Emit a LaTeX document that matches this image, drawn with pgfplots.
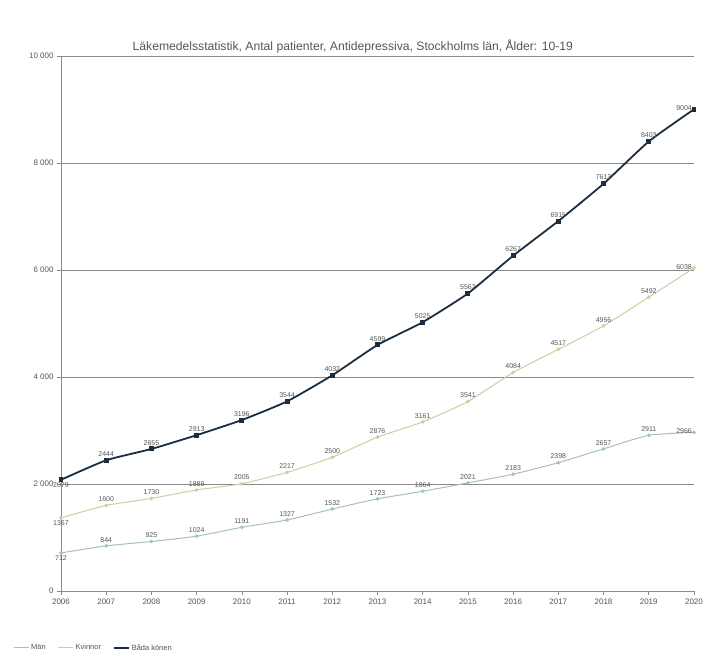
\documentclass[border=0pt]{standalone}
\usepackage{fontspec}
\setmainfont{Liberation Sans}
\usepackage{pgfplots}
\usepackage{pgfplotstable}
\pgfplotsset{compat=1.18}
\definecolor{bothc}{HTML}{1B2D40}
\definecolor{womc}{HTML}{D6C8A2}
\definecolor{menc}{HTML}{A6BEC6}
\definecolor{gridc}{HTML}{8A8A8A}
\definecolor{txtc}{HTML}{555555}
\pgfplotstableread{
year men women both
2006 712 1367 2079
2007 844 1600 2444
2008 925 1730 2655
2009 1024 1889 2913
2010 1191 2005 3196
2011 1327 2217 3544
2012 1532 2500 4032
2013 1723 2876 4599
2014 1864 3161 5025
2015 2021 3541 5562
2016 2183 4084 6267
2017 2398 4517 6915
2018 2657 4956 7613
2019 2911 5492 8403
2020 2966 6038 9004
}\data
\pgfplotsset{lbls/.style 2 args={
  draw=none, mark=none, forget plot,
  point meta=explicit,
  nodes near coords={\pgfmathprintnumber[fixed,precision=0,1000 sep={}]{\pgfplotspointmeta}},
  every node near coord/.append style={anchor=#1, #2, font=\fontsize{7}{8}\selectfont, text=txtc, inner sep=2bp},
}}
\newcommand\labelseries[1]{%
  \addplot[lbls={north}{yshift=-1bp}, restrict x to domain=2005.5:2006.5] table[x=year, y=#1, meta=#1]{\data};
  \addplot[lbls={south}{yshift=1.5bp}, restrict x to domain=2006.5:2019.5] table[x=year, y=#1, meta=#1]{\data};
  \addplot[lbls={east}{yshift=1bp}, restrict x to domain=2019.5:2020.5] table[x=year, y=#1, meta=#1]{\data};
}
\begin{document}
\begin{tikzpicture}
\path[use as bounding box] (-61bp,-63bp) rectangle (645bp,591bp);
\begin{axis}[
  at={(0,0)}, anchor=south west,
  scale only axis, width=633bp, height=535bp,
  xmin=2006, xmax=2020, ymin=0, ymax=10000,
  clip=false,
  axis lines=left, axis line style={-, draw=gridc, line width=0.6pt},
  xtick={2006,...,2020}, ytick={0,2000,...,10000},
  scaled y ticks=false,
  tick align=outside, major tick length=4bp,
  tick style={draw=gridc, line width=0.6pt},
  ymajorgrids, grid style={draw=gridc, line width=0.7pt},
  /pgf/number format/assume math mode=true,
  x tick label style={font=\fontsize{8}{9}\selectfont, text=txtc, /pgf/number format/1000 sep={}},
  y tick label style={font=\fontsize{8}{9}\selectfont, text=txtc, /pgf/number format/1000 sep={\ }},
  title={Läkemedelsstatistik, Antal patienter, Antidepressiva, Stockholms län, Ålder: 10-19},
  title style={at={(0.461,1.0206)}, anchor=center, yshift=-7bp, font=\fontsize{12.2}{14}\selectfont, text=txtc},
  legend style={at={(-0.0806,-0.1065)}, anchor=west, draw=none, fill=none,
    font=\fontsize{7.5}{9}\selectfont, text=txtc, legend columns=-1,
    /tikz/every even column/.append style={column sep=10bp}},
  legend image code/.code={\draw[#1] (0bp,0bp) -- (15bp,0bp);},
]
\addplot[color=menc, line width=1pt, smooth, tension=0.3, mark=*, mark size=1.3pt] table[x=year, y=men]{\data};
\addlegendentry{Män}
\addplot[color=womc, line width=1pt, smooth, tension=0.3, mark=*, mark size=1.3pt] table[x=year, y=women]{\data};
\addlegendentry{Kvinnor}
\addplot[color=bothc, line width=1.8pt, smooth, tension=0.3, mark=square*, mark size=1.6pt] table[x=year, y=both]{\data};
\addlegendentry{Båda könen}
\labelseries{men}
\labelseries{women}
\labelseries{both}
\end{axis}
\end{tikzpicture}
\end{document}
